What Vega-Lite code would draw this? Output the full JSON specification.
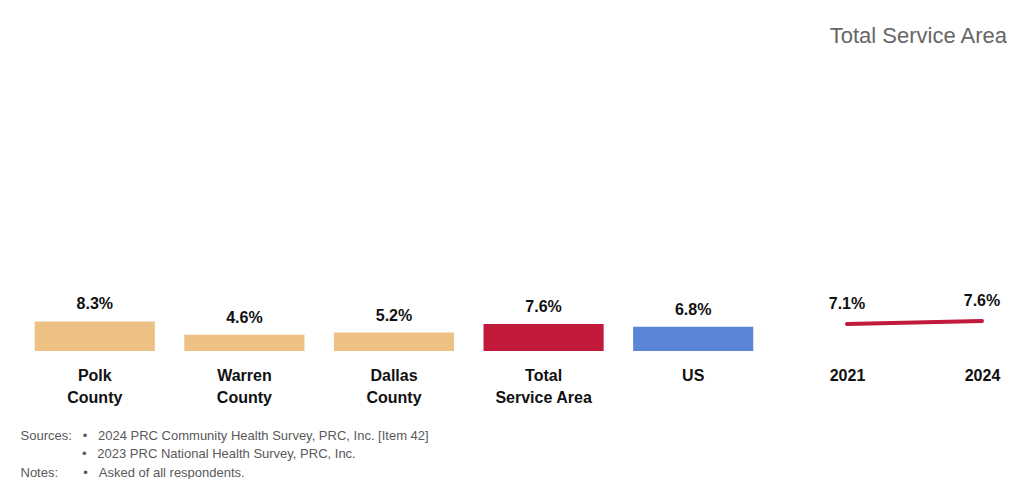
{
  "$schema": "https://vega.github.io/schema/vega-lite/v6.json",
  "padding": {"left": 20, "top": 25, "right": 0, "bottom": 0},
  "background": "white",
  "title": {"text": "Total Service Area", "anchor": "end", "fontSize": 22, "fontWeight": "normal", "color": "#666666", "font": "Liberation Sans", "offset": 15},
  "config": {"view": {"stroke": null}, "font": "Liberation Sans"},
  "spacing": 22,
  "hconcat": [
    {
      "width": 748,
      "height": 288,
      "data": {"values": [
        {"area": "Polk County", "value": 0.083},
        {"area": "Warren County", "value": 0.046},
        {"area": "Dallas County", "value": 0.052},
        {"area": "Total Service Area", "value": 0.076},
        {"area": "US", "value": 0.068}
      ]},
      "encoding": {
        "x": {
          "field": "area", "type": "nominal", "sort": null,
          "scale": {"paddingInner": 0.197, "paddingOuter": 0.0985},
          "axis": {
            "title": [
              "Sources:\u00a0\u00a0\u00a0•\u00a0\u00a0\u00a02024 PRC Community Health Survey, PRC, Inc. [Item 42]",
              "\u200b\u00a0\u00a0\u00a0\u00a0\u00a0\u00a0\u00a0\u00a0\u00a0\u00a0\u00a0\u00a0\u00a0\u00a0\u00a0\u00a0\u00a0•\u00a0\u00a0\u00a02023 PRC National Health Survey, PRC, Inc.",
              "Notes:\u00a0\u00a0\u00a0\u00a0\u00a0\u00a0\u00a0•\u00a0\u00a0\u00a0Asked of all respondents."
            ],
            "domain": false, "ticks": false, "tickSize": 0, "labelAngle": 0,
            "labelFont": "Liberation Sans", "labelFontSize": 16, "labelFontWeight": "bold", "labelColor": "#111111",
            "labelPadding": 16, "labelLineHeight": 22, "labelOverlap": false, "labelLimit": 0,
            "labelExpr": "datum.label == 'Total Service Area' ? ['Total', 'Service Area'] : split(datum.label, ' ')",
            "titleFont": "Liberation Sans", "titleFontSize": 13, "titleFontWeight": "normal", "titleColor": "#595959",
            "titleAnchor": "start", "titleAlign": "left", "titlePadding": 24, "titleLineHeight": 18.5
          }
        },
        "y": {"field": "value", "type": "quantitative", "scale": {"domain": [0, 0.81], "nice": false}, "axis": null}
      },
      "layer": [
        {
          "mark": {"type": "bar"},
          "encoding": {
            "color": {"field": "area", "type": "nominal", "legend": null,
              "scale": {"domain": ["Polk County", "Warren County", "Dallas County", "Total Service Area", "US"],
                        "range": ["#EDC184", "#EDC184", "#EDC184", "#C0193A", "#5A86D5"]}}
          }
        },
        {
          "mark": {"type": "text", "dy": -12, "baseline": "alphabetic", "fontSize": 16, "fontWeight": "bold", "font": "Liberation Sans", "color": "#111111"},
          "encoding": {"text": {"field": "value", "type": "quantitative", "format": ".1%"}}
        }
      ]
    },
    {
      "width": 217,
      "height": 288,
      "data": {"values": [
        {"year": "2021", "value": 0.071},
        {"year": "2024", "value": 0.076}
      ]},
      "encoding": {
        "x": {
          "field": "year", "type": "ordinal",
          "scale": {"type": "point", "range": [57, 192], "padding": 0},
          "axis": {
            "title": null, "domain": false, "ticks": false, "tickSize": 0, "labelAngle": 0,
            "labelFont": "Liberation Sans", "labelFontSize": 16, "labelFontWeight": "bold", "labelColor": "#111111",
            "labelPadding": 16, "labelOverlap": false
          }
        },
        "y": {"field": "value", "type": "quantitative", "scale": {"domain": [0.026, 0.506], "nice": false}, "axis": null}
      },
      "layer": [
        {
          "mark": {"type": "line", "color": "#C0193A", "strokeWidth": 4, "strokeCap": "round"},
          "encoding": {}
        },
        {
          "mark": {"type": "text", "dy": -15, "baseline": "alphabetic", "fontSize": 16, "fontWeight": "bold", "font": "Liberation Sans", "color": "#111111"},
          "encoding": {"text": {"field": "value", "type": "quantitative", "format": ".1%"}}
        }
      ]
    }
  ]
}
